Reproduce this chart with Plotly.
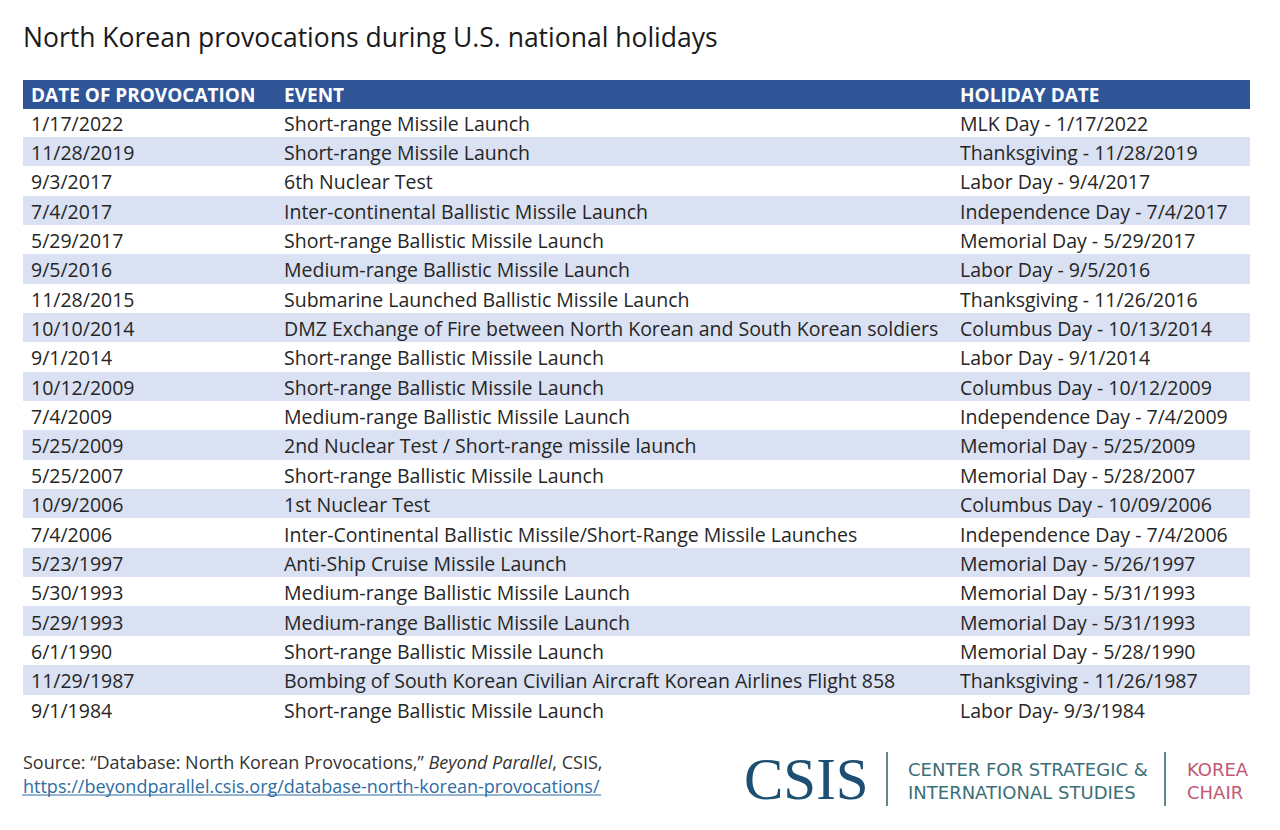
import plotly.graph_objects as go

title = "North Korean provocations during U.S. national holidays"
headers = ["DATE OF PROVOCATION", "EVENT", "HOLIDAY DATE"]

provocation_dates = [
    "1/17/2022", "11/28/2019", "9/3/2017", "7/4/2017", "5/29/2017", "9/5/2016",
    "11/28/2015", "10/10/2014", "9/1/2014", "10/12/2009", "7/4/2009", "5/25/2009",
    "5/25/2007", "10/9/2006", "7/4/2006", "5/23/1997", "5/30/1993", "5/29/1993",
    "6/1/1990", "11/29/1987", "9/1/1984",
]
events = [
    "Short-range Missile Launch",
    "Short-range Missile Launch",
    "6th Nuclear Test",
    "Inter-continental Ballistic Missile Launch",
    "Short-range Ballistic Missile Launch",
    "Medium-range Ballistic Missile Launch",
    "Submarine Launched Ballistic Missile Launch",
    "DMZ Exchange of Fire between North Korean and South Korean soldiers",
    "Short-range Ballistic Missile Launch",
    "Short-range Ballistic Missile Launch",
    "Medium-range Ballistic Missile Launch",
    "2nd Nuclear Test / Short-range missile launch",
    "Short-range Ballistic Missile Launch",
    "1st Nuclear Test",
    "Inter-Continental Ballistic Missile/Short-Range Missile Launches",
    "Anti-Ship Cruise Missile Launch",
    "Medium-range Ballistic Missile Launch",
    "Medium-range Ballistic Missile Launch",
    "Short-range Ballistic Missile Launch",
    "Bombing of South Korean Civilian Aircraft Korean Airlines Flight 858",
    "Short-range Ballistic Missile Launch",
]
holiday_dates = [
    "MLK Day - 1/17/2022",
    "Thanksgiving - 11/28/2019",
    "Labor Day - 9/4/2017",
    "Independence Day - 7/4/2017",
    "Memorial Day - 5/29/2017",
    "Labor Day - 9/5/2016",
    "Thanksgiving - 11/26/2016",
    "Columbus Day - 10/13/2014",
    "Labor Day - 9/1/2014",
    "Columbus Day - 10/12/2009",
    "Independence Day - 7/4/2009",
    "Memorial Day - 5/25/2009",
    "Memorial Day - 5/28/2007",
    "Columbus Day - 10/09/2006",
    "Independence Day - 7/4/2006",
    "Memorial Day - 5/26/1997",
    "Memorial Day - 5/31/1993",
    "Memorial Day - 5/31/1993",
    "Memorial Day - 5/28/1990",
    "Thanksgiving - 11/26/1987",
    "Labor Day- 9/3/1984",
]

W, H = 1280, 830
OFF = 8  # page body margin


def px(x):
    return (x - OFF) / W


def py(y):
    return 1 - (y - OFF) / H


HEADER_BLUE = "#2F5597"
STRIPE = "#DAE1F2"
row_colors = ["white" if i % 2 == 0 else STRIPE for i in range(len(events))]

fig = go.Figure()
fig.add_trace(go.Table(
    domain=dict(x=[px(23), px(1249)], y=[py(766), py(80)]),
    columnwidth=[253, 676, 297],
    header=dict(
        values=headers,
        fill_color=HEADER_BLUE,
        line=dict(color=HEADER_BLUE, width=1),
        align="left",
        font=dict(family="Open Sans", size=19, color="white", weight="bold"),
        height=28,
    ),
    cells=dict(
        values=[provocation_dates, events, holiday_dates],
        fill_color=[row_colors] * 3,
        line=dict(color=[row_colors] * 3, width=1),
        align="left",
        font=dict(family="Open Sans", size=19.5, color="#262626"),
        height=29.35,
    ),
))

fig.add_annotation(x=px(21), y=py(37), xref="paper", yref="paper", xanchor="left", yanchor="middle",
                   text=title, showarrow=False, font=dict(family="Open Sans", size=26.5, color="#1a1a1a"))

fig.add_annotation(x=px(21), y=py(762), xref="paper", yref="paper", xanchor="left", yanchor="middle",
                   text="Source: \u201cDatabase: North Korean Provocations,\u201d <i>Beyond Parallel</i>, CSIS,",
                   showarrow=False, font=dict(family="Open Sans", size=18, color="#333333"))
fig.add_annotation(x=px(21), y=py(786), xref="paper", yref="paper", xanchor="left", yanchor="middle",
                   text="https://beyondparallel.csis.org/database-north-korean-provocations/",
                   showarrow=False, font=dict(family="Open Sans", size=18, color="#2E6DA4"))
fig.add_shape(type="line", xref="paper", yref="paper", x0=px(22), x1=px(601), y0=py(795), y1=py(795),
              line=dict(color="#2E6DA4", width=1))

# Logo
fig.add_annotation(x=px(742), y=py(779), xref="paper", yref="paper", xanchor="left", yanchor="middle",
                   text="CSIS", showarrow=False, font=dict(family="Liberation Serif", size=59, color="#1D4F72"))
for xv in (887, 1165):
    fig.add_shape(type="line", xref="paper", yref="paper", x0=px(xv), x1=px(xv), y0=py(752), y1=py(806),
                  line=dict(color="#5E8A8C", width=2))
fig.add_annotation(x=px(906), y=py(781), xref="paper", yref="paper", xanchor="left", yanchor="middle",
                   text="CENTER FOR STRATEGIC &amp;<br>INTERNATIONAL STUDIES", align="left", showarrow=False,
                   font=dict(family="DejaVu Sans", size=18, color="#3B6F78"))
fig.add_annotation(x=px(1185), y=py(781), xref="paper", yref="paper", xanchor="left", yanchor="middle",
                   text="KOREA<br>CHAIR", align="left", showarrow=False,
                   font=dict(family="DejaVu Sans", size=18, color="#C05A72"))

fig.update_layout(width=W, height=H, margin=dict(l=0, r=0, t=0, b=0),
                  paper_bgcolor="white", plot_bgcolor="white")
fig.write_html("out.html")
